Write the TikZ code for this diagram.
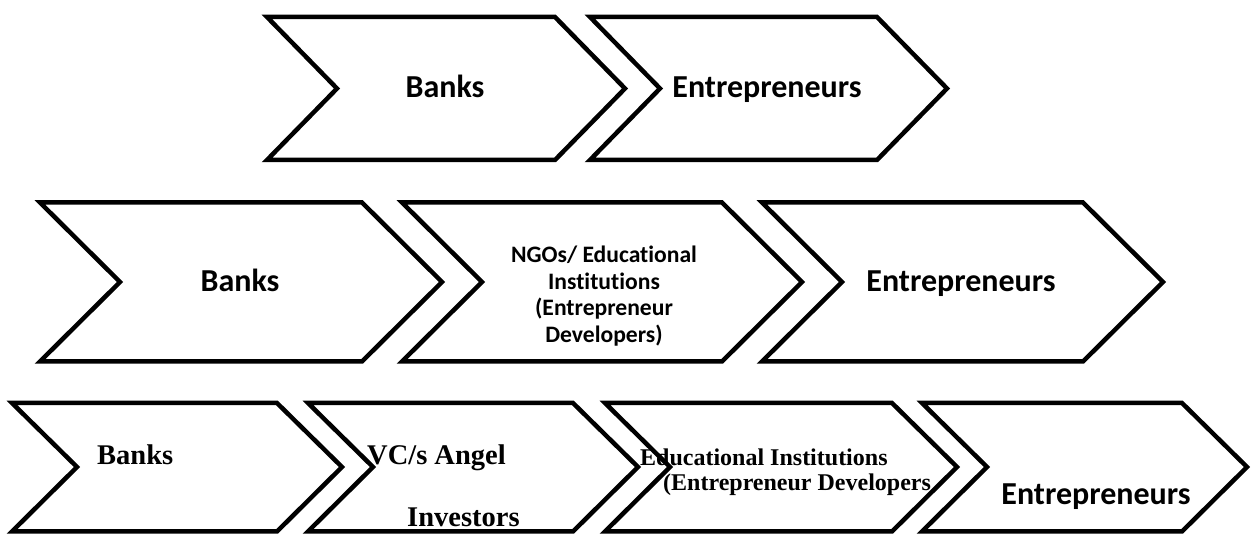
\documentclass[tikz,border=0pt]{standalone}
\usepackage{fontspec}
\newfontfamily\carlito[Ligatures=NoCommon]{Carlito}
\newfontfamily\libserif{Liberation Serif}

\begin{document}
\begin{tikzpicture}[x=1pt,y=-1pt]
\path[use as bounding box] (0,0) rectangle (1254,534);
\tikzset{chev/.style={line width=4.5pt,line join=miter},
  sanslbl/.style={inner sep=0pt,anchor=base,font=\carlito\bfseries\fontsize{32}{38}\selectfont},
  seriflbl/.style={inner sep=0pt,anchor=base west,font=\libserif\bfseries\fontsize{28.5}{32}\selectfont}}

% top row
\foreach \xa/\xb in {267/555,590/877}
  \draw[chev] (\xa,17)--(\xb,17)--(\xb+70,88.5)--(\xb,160)--(\xa,160)--(\xa+70,88.5)--cycle;
\node[sanslbl] (banksA) at (445,98) {Banks};
\node[sanslbl] (entrA) at (767,98) {Entrepreneurs};

% middle row
\foreach \xa/\xb in {40/362,402/722,762/1083}
  \draw[chev] (\xa,202.5)--(\xb,202.5)--(\xb+80,282)--(\xb,361.5)--(\xa,361.5)--(\xa+80,282)--cycle;
\node[sanslbl] (banksB) at (240,292) {Banks};
\node[inner sep=0pt,align=center,font=\carlito\bfseries\fontsize{23.6}{26.5}\selectfont] (ngo) at (604,296)
  {NGOs/ Educational\\Institutions\\(Entrepreneur\\Developers)};
\node[sanslbl] (entrB) at (961,292) {Entrepreneurs};

% bottom row
\foreach \xa/\xb in {12/277,308/573,605/892,922/1182}
  \draw[chev] (\xa,403)--(\xb,403)--(\xb+65,467)--(\xb,531.5)--(\xa,531.5)--(\xa+65,467)--cycle;
\node[seriflbl] (banksC) at (97,465) {Banks};
\node[seriflbl] (vc) at (367,465) {VC/s Angel};
\node[seriflbl] (inv) at (407,527) {Investors};
\node[seriflbl,font=\libserif\bfseries\fontsize{24}{28}\selectfont] (edu) at (640,466) {Educational Institutions};
\node[seriflbl,font=\libserif\bfseries\fontsize{24}{28}\selectfont] (dev) at (663,491) {(Entrepreneur Developers};
\node[sanslbl] (entrC) at (1096,505) {Entrepreneurs};
\end{tikzpicture}
\end{document}
